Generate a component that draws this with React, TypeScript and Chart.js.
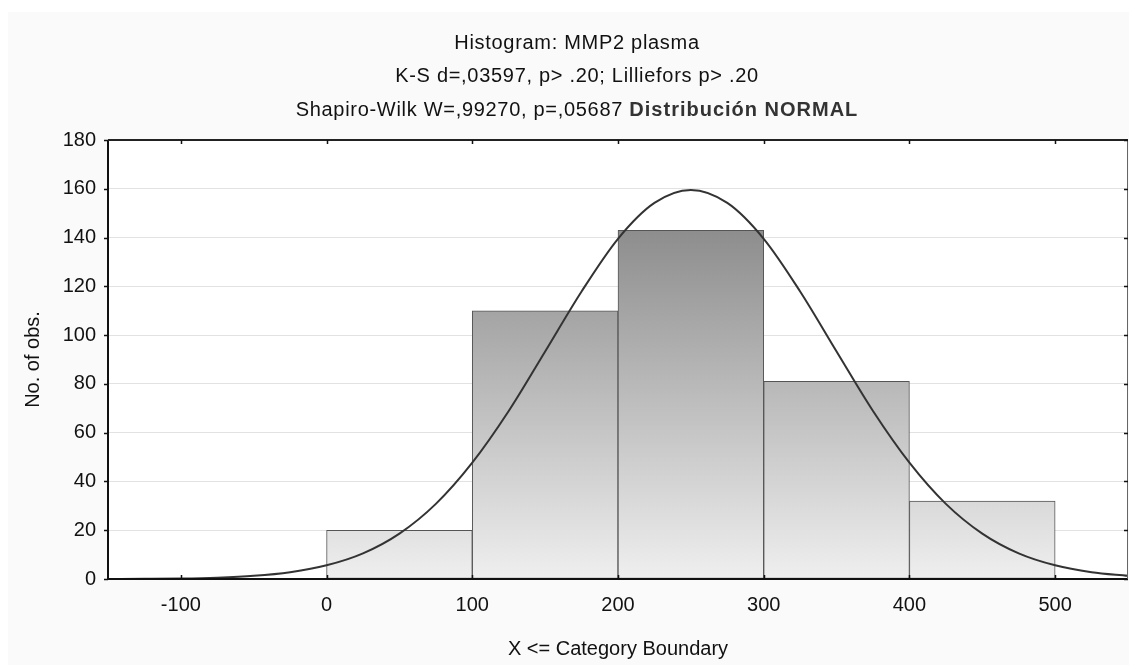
import React, { useEffect, useRef } from "react";
import { Chart, registerables } from "chart.js";

Chart.register(...registerables);

const binCenters = [-50, 50, 150, 250, 350, 450];
const binCounts = [0, 20, 110, 143, 81, 32];

const curveX = [-150, -125, -100, -75, -50, -25, 0, 25, 50, 75, 100, 125, 150, 175, 200, 225, 250, 275, 300, 325, 350, 375, 400, 425, 450, 475, 500, 525, 550];
const curveY = [0.03, 0.08, 0.2, 0.55, 1.3, 2.8, 5.6, 10.5, 18.6, 30.8, 47.7, 68.9, 93.3, 117.9, 139.5, 154.2, 159.5, 154.2, 139.5, 117.9, 93.3, 68.9, 47.7, 30.8, 18.6, 10.5, 5.6, 2.8, 1.3];

const xTickValues = [-100, 0, 100, 200, 300, 400, 500];
const yTickValues = [0, 20, 40, 60, 80, 100, 120, 140, 160, 180];

const titleLine1 = "Histogram: MMP2 plasma";
const titleLine2 = "K-S d=,03597, p> .20; Lilliefors p> .20";
const titleLine3a = "Shapiro-Wilk W=,99270, p=,05687 ";
const titleLine3b = "Distribución NORMAL";
const xAxisTitle = "X <= Category Boundary";
const yAxisTitle = "No. of obs.";

const FONT = "'Liberation Sans', Arial, sans-serif";

export default function App() {
  const ref = useRef<HTMLCanvasElement>(null);

  useEffect(() => {
    const canvas = ref.current;
    if (!canvas) return;

    const framePlugin = {
      id: "frame",
      beforeDraw(chart: any) {
        const { ctx, width, height, chartArea } = chart;
        ctx.save();
        ctx.fillStyle = "#fafafa";
        ctx.fillRect(0, 0, width, height);
        ctx.fillStyle = "#ffffff";
        ctx.fillRect(chartArea.left, chartArea.top, chartArea.right - chartArea.left, chartArea.bottom - chartArea.top);
        ctx.restore();
      },
      afterDraw(chart: any) {
        const { ctx, chartArea } = chart;
        const { left, right, top, bottom } = chartArea;
        const xs = chart.scales.x;
        const ys = chart.scales.y;
        ctx.save();
        // frame
        ctx.strokeStyle = "#111";
        ctx.lineWidth = 2;
        ctx.beginPath();
        ctx.moveTo(left, top);
        ctx.lineTo(left, bottom);
        ctx.lineTo(right, bottom);
        ctx.stroke();
        ctx.strokeStyle = "#222";
        ctx.beginPath();
        ctx.moveTo(left, top);
        ctx.lineTo(right, top);
        ctx.stroke();
        ctx.strokeStyle = "#666";
        ctx.lineWidth = 1;
        ctx.beginPath();
        ctx.moveTo(right - 0.5, top);
        ctx.lineTo(right - 0.5, bottom);
        ctx.stroke();
        // ticks
        ctx.strokeStyle = "#111";
        ctx.lineWidth = 1.5;
        ctx.beginPath();
        for (const v of xTickValues) {
          const px = Math.round(xs.getPixelForValue(v)) + 0.5;
          ctx.moveTo(px, bottom);
          ctx.lineTo(px, bottom - 4);
          ctx.moveTo(px, top);
          ctx.lineTo(px, top + 4);
        }
        for (const v of yTickValues) {
          const py = Math.round(ys.getPixelForValue(v)) + 0.5;
          ctx.moveTo(left - 4, py);
          ctx.lineTo(left, py);
          ctx.moveTo(right - 4, py);
          ctx.lineTo(right, py);
        }
        ctx.stroke();

        // title
        const cx = 569;
        ctx.textBaseline = "middle";
        ctx.textAlign = "left";
        (ctx as any).letterSpacing = "0.7px";
        ctx.fillStyle = "#111";
        ctx.font = `20px ${FONT}`;
        const w1 = ctx.measureText(titleLine1).width;
        ctx.fillText(titleLine1, cx - w1 / 2, 31);
        const w2 = ctx.measureText(titleLine2).width;
        ctx.fillText(titleLine2, cx - w2 / 2, 64.5);
        const w3a = ctx.measureText(titleLine3a).width;
        ctx.font = `bold 20px ${FONT}`;
        (ctx as any).letterSpacing = "1px";
        const w3b = ctx.measureText(titleLine3b).width;
        const start = cx - (w3a + w3b) / 2;
        ctx.font = `20px ${FONT}`;
        (ctx as any).letterSpacing = "0.7px";
        ctx.fillText(titleLine3a, start, 98);
        ctx.font = `bold 20px ${FONT}`;
        (ctx as any).letterSpacing = "1px";
        ctx.fillStyle = "#333";
        ctx.fillText(titleLine3b, start + w3a, 98);
        ctx.restore();
      },
    };

    const chart = new Chart(canvas, {
      type: "bar",
      data: {
        datasets: [
          {
            type: "line",
            data: curveX.map((x, i) => ({ x, y: curveY[i] })),
            borderColor: "#333",
            borderWidth: 2,
            pointRadius: 0,
            tension: 0.4,
            cubicInterpolationMode: "monotone",
            fill: false,
            order: 0,
          } as any,
          {
            type: "bar",
            data: binCenters.map((x, i) => ({ x, y: binCounts[i] })),
            backgroundColor: (c: any) => {
              const area = c.chart.chartArea;
              if (!area) return "#bbb";
              const g = c.chart.ctx.createLinearGradient(0, area.top, 0, area.bottom);
              g.addColorStop(0, "#747474");
              g.addColorStop(1, "#efefef");
              return g;
            },
            borderColor: "#555",
            borderWidth: 1,
            borderSkipped: false,
            barPercentage: 1,
            categoryPercentage: 1,
            grouped: false,
            order: 1,
          } as any,
        ],
      },
      options: {
        animation: false,
        responsive: true,
        maintainAspectRatio: false,
        layout: { padding: { left: 0, right: 1, top: 128, bottom: 0 } },
        plugins: { legend: { display: false }, tooltip: { enabled: false }, title: { display: false } },
        scales: {
          x: {
            type: "linear",
            min: -150,
            max: 550,
            offset: false,
            grid: { display: false, offset: false, drawTicks: false },
            border: { display: false },
            afterBuildTicks: (s: any) => {
              s.ticks = xTickValues.map((v) => ({ value: v }));
            },
            afterFit: (s: any) => {
              s.height = 86;
            },
            ticks: { color: "#111", font: { size: 20, family: FONT }, padding: 14, maxRotation: 0, autoSkip: false },
            title: { display: true, text: xAxisTitle, color: "#111", font: { size: 20, family: FONT }, padding: { top: 0, bottom: 4 } },
          },
          y: {
            min: 0,
            max: 180,
            grid: { color: "#e2e2e2", lineWidth: 1, drawTicks: false },
            border: { display: false },
            afterBuildTicks: (s: any) => {
              s.ticks = yTickValues.map((v) => ({ value: v }));
            },
            afterFit: (s: any) => {
              s.width = 100;
            },
            ticks: { color: "#111", font: { size: 20, family: FONT }, padding: 12 },
            title: { display: true, text: yAxisTitle, color: "#111", font: { size: 20, family: FONT }, padding: { top: 13, bottom: 0 } },
          },
        },
      },
      plugins: [framePlugin],
    });
    return () => chart.destroy();
  }, []);

  return (
    <div style={{ position: "absolute", left: 8, top: 12, width: 1121, height: 653 }}>
      <canvas ref={ref} />
    </div>
  );
}
